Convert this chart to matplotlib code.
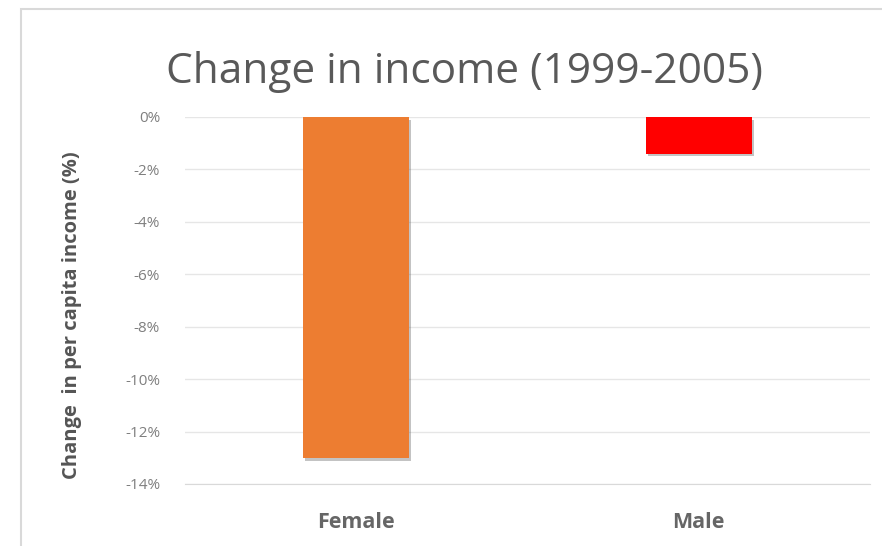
import matplotlib.pyplot as plt
import matplotlib.patheffects as pe
from matplotlib.patches import Rectangle

categories = ['Female', 'Male']
changes = [-13.0, -1.4]
colors = ['#ED7D31', '#FF0000']
yticks = [0, -2, -4, -6, -8, -10, -12, -14]

plt.rcParams['font.family'] = ['Open Sans', 'DejaVu Sans']

fig = plt.figure(figsize=(8.82, 5.46), dpi=100)
# chart border (left/top visible, rest cut off)
fig.patches.append(Rectangle((21 / 882, -0.05), 1.1, 1 - 9 / 546 + 0.05,
                             transform=fig.transFigure, fill=False,
                             edgecolor='#D9D9D9', linewidth=1.5))

ax = fig.add_axes([185 / 882, 1 - 484 / 546, (870 - 185) / 882, (484 - 117) / 546])
bars = ax.bar(categories, changes, width=0.31, color=colors, zorder=3)
for b in bars:
    b.set_path_effects([pe.SimplePatchShadow(offset=(1.5, -2), alpha=0.35, shadow_rgbFace='#555555'),
                        pe.Normal()])

ax.set_ylim(-14, 0)
ax.set_xlim(-0.5, 1.5)
ax.set_yticks(yticks)
ax.set_yticklabels([f'{v}%' for v in yticks])
ax.grid(axis='y', color='#E6E6E6', linewidth=1, zorder=0)
for s in ['top', 'right', 'left']:
    ax.spines[s].set_visible(False)
ax.spines['bottom'].set_color('#D9D9D9')
ax.spines['bottom'].set_position(('data', -14))
ax.tick_params(axis='y', length=0, labelsize=11, labelcolor='#7F7F7F', pad=18)
ax.tick_params(axis='x', length=0, labelsize=15.5, labelcolor='#666666', pad=20)
for lbl in ax.get_xticklabels():
    lbl.set_fontweight('bold')

ax.set_ylabel('Change  in per capita income (%)', fontsize=14.5, fontweight='bold',
              color='#555555')
ax.yaxis.set_label_coords(-0.15, 0.46)
fig.text(0.527, 1 - 72 / 546, 'Change in income (1999-2005)', ha='center', va='center',
         fontsize=30.5, color='#595959')

fig.savefig('out.png', dpi=100)
